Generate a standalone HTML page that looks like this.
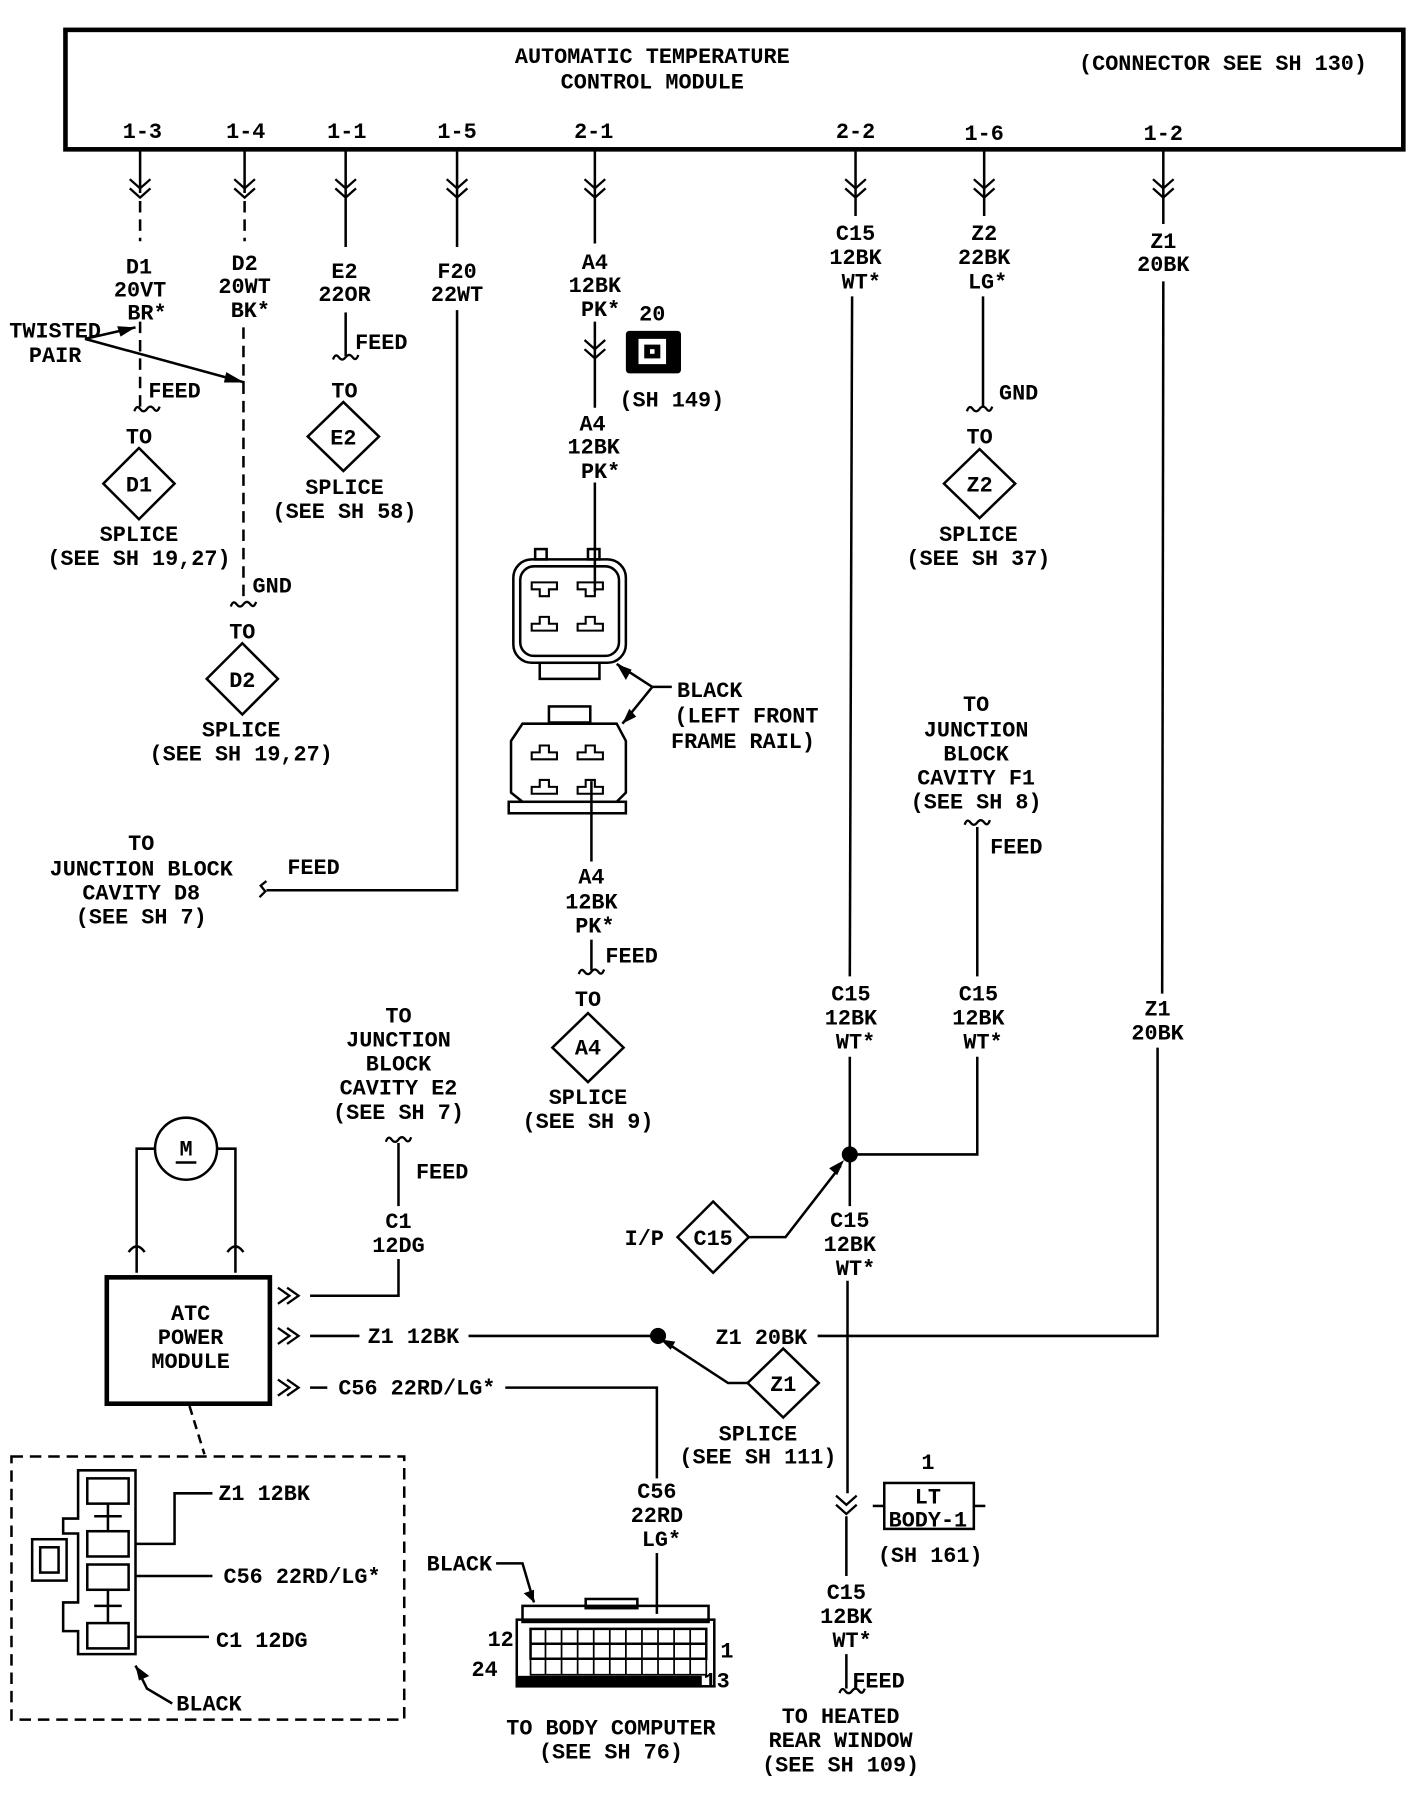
<!DOCTYPE html>
<html><head><meta charset="utf-8"><style>
html,body{margin:0;padding:0;background:#fff;}
svg{display:block}
text{font-family:"Liberation Mono",monospace;font-size:19px;font-weight:bold;fill:#000;text-anchor:middle}
</style></head><body>
<svg width="1424" height="1800" viewBox="0 0 1240 1567" preserveAspectRatio="none" xmlns="http://www.w3.org/2000/svg">
<defs>
<path id="chv" d="M-9 -6 L0 2 L9 -6 M-9 2 L0 10 L9 2" fill="none" stroke="#000" stroke-width="2"/>
<path id="til" d="M-11 2 q2 -6 5 -2 q3 4 6 0 q3 -4 6 0 q3 4 5 -2" fill="none" stroke="#000" stroke-width="2"/>
<path id="rch" d="M-8 -7 L2 0 L-8 7 M0 -7 L10 0 L0 7" fill="none" stroke="#000" stroke-width="2"/>
</defs>
<g stroke="#000" stroke-width="2.2" fill="none">
<rect x="57" y="26" width="1165" height="104" stroke-width="4"/>
<line x1="122" y1="130" x2="122" y2="168"/>
<line x1="122" y1="175" x2="122" y2="210" stroke-dasharray="10 6"/>
<line x1="122" y1="280" x2="122" y2="355" stroke-dasharray="10 6"/>
<line x1="213" y1="130" x2="213" y2="168"/>
<line x1="213" y1="175" x2="213" y2="210" stroke-dasharray="10 6"/>
<line x1="212" y1="285" x2="212" y2="525" stroke-dasharray="10 6"/>
<line x1="74" y1="295" x2="118" y2="285"/>
<line x1="74" y1="295" x2="213" y2="333"/>
<line x1="301" y1="130" x2="301" y2="215"/>
<line x1="301" y1="272" x2="301" y2="310"/>
<line x1="398" y1="130" x2="398" y2="215"/>
<polyline points="398,270 398,775 232,775"/>
<line x1="518" y1="130" x2="518" y2="212"/>
<line x1="518" y1="280" x2="518" y2="355"/>
<line x1="518" y1="420" x2="518" y2="515"/>
<line x1="515" y1="680" x2="515" y2="750"/>
<line x1="515" y1="818" x2="515" y2="845"/>
<line x1="745" y1="130" x2="745" y2="188"/>
<line x1="742" y1="258" x2="740" y2="850"/>
<line x1="740" y1="920" x2="740" y2="1050"/>
<line x1="738" y1="1115" x2="738" y2="1300"/>
<line x1="737" y1="1320" x2="737" y2="1372"/>
<line x1="737" y1="1440" x2="737" y2="1470"/>
<line x1="857" y1="130" x2="857" y2="188"/>
<line x1="856" y1="258" x2="856" y2="355"/>
<line x1="1013" y1="130" x2="1013" y2="195"/>
<line x1="1013" y1="245" x2="1012" y2="865"/>
<polyline points="1008,912 1008,1163 712,1163"/>
<line x1="851" y1="720" x2="851" y2="850"/>
<polyline points="851,920 851,1005 740,1005"/>
<polyline points="652,1077 684,1077 732,1015"/>
<rect x="93" y="1112" width="142" height="110" stroke-width="4"/>
<circle cx="162" cy="1000" r="27"/>
<line x1="153" y1="1012" x2="171" y2="1012"/>
<polyline points="119,1108 119,1000 135,1000"/>
<polyline points="205,1108 205,1000 189,1000"/>
<path d="M112 1090 q7 -10 14 0 M198 1090 q7 -10 14 0"/>
<polyline points="270,1128 347,1128 347,1096"/>
<line x1="347" y1="1050" x2="347" y2="995"/>
<line x1="270" y1="1163" x2="313" y2="1163"/>
<line x1="408" y1="1163" x2="573" y2="1163"/>
<line x1="270" y1="1208" x2="285" y2="1208"/>
<polyline points="440,1208 572,1208 572,1287"/>
<line x1="572" y1="1352" x2="572" y2="1405"/>
<polyline points="652,1204 634,1204 582,1170"/>
<rect x="770" y="1291" width="78" height="40"/>
<line x1="760" y1="1311" x2="770" y2="1311"/><line x1="848" y1="1311" x2="858" y2="1311"/>
<rect x="10" y="1268" width="342" height="229" stroke-dasharray="10 6"/>
<line x1="165" y1="1224" x2="178" y2="1266" stroke-dasharray="8 5"/>
<path d="M68 1280 H118 V1440 H68 V1420 H55 V1395 H68 V1335 H55 V1322 H68 Z"/>
<rect x="28" y="1340" width="30" height="36"/>
<rect x="35" y="1347" width="16" height="22"/>
<rect x="76" y="1287" width="36" height="22"/>
<rect x="76" y="1333" width="36" height="22"/>
<rect x="76" y="1362" width="36" height="22"/>
<rect x="76" y="1413" width="36" height="22"/>
<path d="M94 1310 V1332 M82 1320 H106 M94 1385 V1412 M82 1398 H106"/>
<polyline points="118,1344 152,1344 152,1300 185,1300"/>
<line x1="118" y1="1372" x2="185" y2="1372"/>
<line x1="118" y1="1425" x2="182" y2="1425"/>
<polyline points="150,1483 128,1470 118,1450"/>
<rect x="447" y="487" width="98" height="90" rx="16"/>
<rect x="453" y="493" width="86" height="78" rx="12"/>
<rect x="470" y="577" width="52" height="14"/>
<rect x="466" y="478" width="10" height="9"/><rect x="512" y="478" width="10" height="9"/>
<path d="M463 507 h22 v6 h-7 v6 h-8 v-6 h-7 z M503 507 h22 v6 h-7 v6 h-8 v-6 h-7 z M463 549 v-6 h7 v-6 h8 v6 h7 v6 z M503 549 v-6 h7 v-6 h8 v6 h7 v6 z" stroke-width="1.8"/>
<rect x="478" y="615" width="36" height="14"/>
<path d="M455 630 H537 L545 645 V690 L537 698 H455 L445 690 V645 Z"/>
<rect x="443" y="698" width="102" height="10"/>
<path d="M463 655 h7 v-6 h8 v6 h7 v6 h-22 z M503 655 h7 v-6 h8 v6 h7 v6 h-22 z M463 685 v6 h22 v-6 h-7 v-6 h-8 v6 z M503 685 v6 h22 v-6 h-7 v-6 h-8 v6 z" stroke-width="1.8"/>
<polyline points="585,598 568,598 537,578"/>
<line x1="568" y1="598" x2="542" y2="630"/>
<rect x="450" y="1410" width="172" height="58"/>
<rect x="455" y="1398" width="162" height="14"/>
<rect x="510" y="1392" width="45" height="8"/>
<path d="M462 1418 H615 V1444 H462 Z M462 1431 H615"/>
<path d="M475 1418 V1458 M489 1418 V1458 M503 1418 V1458 M517 1418 V1458 M531 1418 V1458 M545 1418 V1458 M559 1418 V1458 M573 1418 V1458 M587 1418 V1458 M601 1418 V1458 M462 1444 V1458 H615 V1444" stroke-width="1.5"/>
<rect x="450" y="1460" width="160" height="8" fill="#000"/>
<polyline points="432,1361 455,1361 465,1395"/>
<path d="M121 390 L152 421 L121 452 L90 421 Z"/>
<path d="M211 560 L242 591 L211 622 L180 591 Z"/>
<path d="M299 350 L330 380 L299 410 L268 380 Z"/>
<path d="M512 882 L543 912 L512 942 L481 912 Z"/>
<path d="M853 391 L884 421 L853 451 L822 421 Z"/>
<path d="M621 1046 L652 1077 L621 1108 L590 1077 Z"/>
<path d="M682 1174 L713 1204 L682 1234 L651 1204 Z"/>
</g>
<use href="#chv" x="122" y="162"/><use href="#chv" x="213" y="162"/><use href="#chv" x="301" y="162"/><use href="#chv" x="398" y="162"/><use href="#chv" x="518" y="162"/><use href="#chv" x="745" y="162"/><use href="#chv" x="857" y="162"/><use href="#chv" x="1013" y="162"/>
<use href="#chv" x="518" y="302"/><use href="#chv" x="737" y="1308"/>
<use href="#til" x="128" y="356"/><use href="#til" x="212" y="526"/><use href="#til" x="301" y="311"/><use href="#til" x="515" y="846"/><use href="#til" x="853" y="356"/><use href="#til" x="851" y="716"/><use href="#til" x="347" y="992"/><use href="#til" x="742" y="1472"/>
<path d="M232 767 l-5 4 l4 5 l-5 5" stroke="#000" stroke-width="2" fill="none"/>
<use href="#rch" x="250" y="1128"/><use href="#rch" x="250" y="1163"/><use href="#rch" x="250" y="1208"/>
<path d="M118 285 l-16 -1 l3 9 z M213 333 l-16 -9 l-2 9 z M537 578 l8 14 l5 -9 z M542 630 l12 -6 l-6 -7 z M735 1010 l-13 7 l7 6 z M575 1166 l13 2 l-4 7 z M465 1395 l-9 -8 l9 -3 z M118 1450 l12 9 l-9 4 z" fill="#000"/>
<circle cx="740" cy="1005" r="7" fill="#000"/>
<circle cx="573" cy="1163" r="7" fill="#000"/>
<rect x="545" y="288" width="48" height="37" rx="3" fill="#000"/>
<rect x="556" y="295" width="24" height="22" fill="#fff"/>
<rect x="561" y="300" width="14" height="12" fill="#000"/>
<rect x="566" y="304" width="4" height="4" fill="#fff"/>
<g>
<text x="568" y="55">AUTOMATIC TEMPERATURE</text>
<text x="568" y="77">CONTROL MODULE</text>
<text x="1065" y="61">(CONNECTOR SEE SH 130)</text>
<text x="124" y="120">1-3</text><text x="214" y="120">1-4</text><text x="302" y="120">1-1</text><text x="398" y="120">1-5</text><text x="517" y="120">2-1</text><text x="745" y="120">2-2</text><text x="857" y="122">1-6</text><text x="1013" y="122">1-2</text>
<text x="121" y="238">D1</text><text x="122" y="258">20VT</text><text x="128" y="278">BR*</text>
<text x="213" y="235">D2</text><text x="213" y="255">20WT</text><text x="218" y="276">BK*</text>
<text x="48" y="294">TWISTED</text><text x="48" y="315">PAIR</text>
<text x="152" y="346">FEED</text><text x="121" y="386">TO</text><text x="121" y="428">D1</text>
<text x="121" y="471">SPLICE</text><text x="121" y="492">(SEE SH 19,27)</text>
<text x="237" y="516">GND</text><text x="211" y="556">TO</text><text x="211" y="598">D2</text>
<text x="210" y="641">SPLICE</text><text x="210" y="662">(SEE SH 19,27)</text>
<text x="300" y="242">E2</text><text x="300" y="262">22OR</text>
<text x="332" y="304">FEED</text><text x="300" y="346">TO</text><text x="299" y="387">E2</text>
<text x="300" y="430">SPLICE</text><text x="300" y="451">(SEE SH 58)</text>
<text x="398" y="242">F20</text><text x="398" y="262">22WT</text>
<text x="273" y="761">FEED</text>
<text x="123" y="740">TO</text><text x="123" y="762">JUNCTION BLOCK</text><text x="123" y="783">CAVITY D8</text><text x="123" y="804">(SEE SH 7)</text>
<text x="518" y="234">A4</text><text x="518" y="254">12BK</text><text x="523" y="275">PK*</text>
<text x="568" y="279">20</text><text x="585" y="354">(SH 149)</text>
<text x="516" y="375">A4</text><text x="517" y="395">12BK</text><text x="523" y="416">PK*</text>
<text x="618" y="607">BLACK</text><text x="650" y="629">(LEFT FRONT</text><text x="647" y="651">FRAME RAIL)</text>
<text x="515" y="769">A4</text><text x="515" y="791">12BK</text><text x="518" y="812">PK*</text>
<text x="550" y="838">FEED</text><text x="512" y="876">TO</text><text x="512" y="918">A4</text>
<text x="512" y="961">SPLICE</text><text x="512" y="982">(SEE SH 9)</text>
<text x="745" y="209">C15</text><text x="745" y="230">12BK</text><text x="750" y="251">WT*</text>
<text x="857" y="209">Z2</text><text x="857" y="230">22BK</text><text x="860" y="251">LG*</text>
<text x="887" y="348">GND</text><text x="853" y="386">TO</text><text x="853" y="428">Z2</text>
<text x="852" y="471">SPLICE</text><text x="852" y="492">(SEE SH 37)</text>
<text x="1013" y="216">Z1</text><text x="1013" y="236">20BK</text>
<text x="850" y="619">TO</text><text x="850" y="641">JUNCTION</text><text x="850" y="662">BLOCK</text><text x="850" y="683">CAVITY F1</text><text x="850" y="704">(SEE SH 8)</text>
<text x="885" y="743">FEED</text>
<text x="741" y="871">C15</text><text x="741" y="892">12BK</text><text x="745" y="913">WT*</text>
<text x="852" y="871">C15</text><text x="852" y="892">12BK</text><text x="856" y="913">WT*</text>
<text x="1008" y="884">Z1</text><text x="1008" y="905">20BK</text>
<text x="561" y="1084">I/P</text><text x="621" y="1084">C15</text>
<text x="740" y="1068">C15</text><text x="740" y="1089">12BK</text><text x="745" y="1110">WT*</text>
<text x="347" y="890">TO</text><text x="347" y="911">JUNCTION</text><text x="347" y="932">BLOCK</text><text x="347" y="953">CAVITY E2</text><text x="347" y="974">(SEE SH 7)</text>
<text x="385" y="1026">FEED</text><text x="347" y="1069">C1</text><text x="347" y="1090">12DG</text>
<text x="162" y="1006">M</text>
<text x="166" y="1149">ATC</text><text x="166" y="1170">POWER</text><text x="166" y="1191">MODULE</text>
<text x="360" y="1169">Z1 12BK</text>
<text x="663" y="1170">Z1 20BK</text>
<text x="363" y="1214">C56 22RD/LG*</text>
<text x="682" y="1211">Z1</text>
<text x="660" y="1254">SPLICE</text><text x="660" y="1274">(SEE SH 111)</text>
<text x="572" y="1304">C56</text><text x="572" y="1325">22RD</text><text x="576" y="1346">LG*</text>
<text x="400" y="1367">BLACK</text>
<text x="436" y="1433">12</text><text x="422" y="1459">24</text><text x="633" y="1443">1</text><text x="624" y="1469">13</text>
<text x="532" y="1510">TO BODY COMPUTER</text><text x="532" y="1531">(SEE SH 76)</text>
<text x="808" y="1279">1</text><text x="808" y="1309">LT</text><text x="808" y="1329">BODY-1</text><text x="810" y="1360">(SH 161)</text>
<text x="737" y="1392">C15</text><text x="737" y="1413">12BK</text><text x="742" y="1434">WT*</text>
<text x="765" y="1469">FEED</text>
<text x="732" y="1500">TO HEATED</text><text x="732" y="1521">REAR WINDOW</text><text x="732" y="1542">(SEE SH 109)</text>
<text x="230" y="1306">Z1 12BK</text><text x="263" y="1378">C56 22RD/LG*</text><text x="228" y="1434">C1 12DG</text><text x="182" y="1489">BLACK</text>
</g>
</svg>
</body></html>
